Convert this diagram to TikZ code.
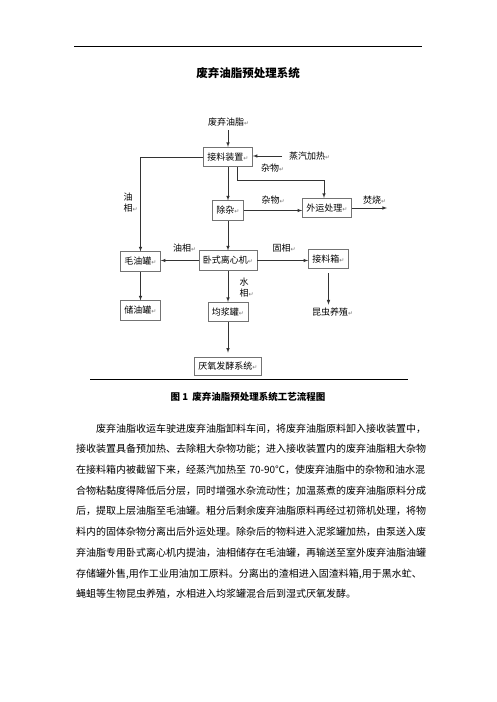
\documentclass[tikz,border=0pt]{standalone}
\usepackage{fontspec}
\setmainfont{Noto Sans CJK SC}
\newfontfamily\markfont{DejaVu Sans}
\usepackage{tikz}

\newcommand{\pmark}{{\markfont\fontsize{6}{6}\selectfont\textcolor{black!55}{↵}}}

\begin{document}
\begin{tikzpicture}[
    x=1pt, y=-1pt,
    box/.style={rectangle, draw=black!55, line width=0.6pt, inner xsep=4pt, inner ysep=0pt, minimum height=19.5pt, font=\fontsize{9}{10}\selectfont},
    lbl/.style={inner sep=0pt, anchor=west, font=\fontsize{9}{11}\selectfont},
    arrow/.style={-latex, black!80, line width=0.6pt}
]
    \useasboundingbox (0,0) rectangle (496,702);
    \fill[white] (0,0) rectangle (496,702);

    \draw[line width=0.9pt] (74,46) -- (422,46);
    \node[font=\fontsize{11.5}{12}\selectfont\bfseries] (title) at (248,73) {废弃油脂预处理系统};

    \node[lbl] (oil) at (208,122) {废弃油脂\pmark};
    \node[box] (feed) at (228,157) {接料装置\pmark};
    \node[lbl] (steam) at (289,156) {蒸汽加热\pmark};
    \node[lbl] (imp1) at (261,168) {杂物\pmark};
    \node[box] (sep) at (228,210.5) {除杂\pmark};
    \node[lbl] (imp2) at (261.5,200) {杂物\pmark};
    \node[box] (haul) at (327,208) {外运处理\pmark};
    \node[lbl] (burn) at (363,200) {焚烧\pmark};
    \coordinate (burnend) at (387,208);
    \node[lbl, align=left] (oilv) at (123.5,202.5) {油\\相\pmark};
    \node[box] (crude) at (140.5,261.5) {毛油罐\pmark};
    \node[box] (cent) at (228,260.5) {卧式离心机\pmark};
    \node[lbl] (oilh) at (173,248) {油相\pmark};
    \node[lbl] (solid) at (272.5,248) {固相\pmark};
    \node[box] (recv) at (328.5,259) {接料箱\pmark};
    \node[lbl] (insect) at (312,312) {昆虫养殖\pmark};
    \node[box] (store) at (140.5,310.5) {储油罐\pmark};
    \node[lbl, align=left] (water) at (239.5,288) {水\\相\pmark};
    \node[box] (homo) at (228,312) {均浆罐\pmark};
    \node[box, minimum height=18pt] (ana) at (228,366) {厌氧发酵系统\pmark};

    \draw[arrow, shorten <=4pt] (oil.south -| feed.north) -- (feed.north);
    \draw[arrow] ([xshift=-7pt]steam.west) -- (steam.west -| feed.east);
    \draw[arrow] (feed) -- (sep);
    \draw[arrow] ([xshift=9pt]feed.south) -- ++(0,13) -| ([xshift=-3pt]haul.north);
    \draw[arrow] (sep.east) -- (sep.east -| haul.west);
    \draw[arrow] (haul) -- (burnend);
    \draw[arrow] (feed.west) -| (crude.north);
    \draw[arrow] (sep) -- (cent);
    \draw[arrow] (cent.west) -- (cent.west -| crude.east);
    \draw[arrow] (cent.east) -- (cent.east -| recv.west);
    \draw[arrow, shorten <=4pt, shorten >=3pt] (recv.south) -- (recv.south |- insect.north);
    \draw[arrow] (crude) -- (store);
    \draw[arrow] (cent) -- (homo);
    \draw[arrow, shorten >=4pt] (homo) -- (ana);

    \draw[line width=0.9pt] (90,379) -- (408,379);
    \node[font=\fontsize{9.5}{10}\selectfont\bfseries] (caption) at (248,397) {图~1~~废弃油脂预处理系统工艺流程图};

    \node[anchor=north west, inner sep=0pt, text width=351pt, align=left, font=\fontsize{10}{20.7}\selectfont] (body) at (76,423.5) {\hspace*{20pt}废弃油脂收运车驶进废弃油脂卸料车间，将废弃油脂原料卸入接收装置中，\\
接收装置具备预加热、去除粗大杂物功能；进入接收装置内的废弃油脂粗大杂物\\
在接料箱内被截留下来，经蒸汽加热至~70-90℃，使废弃油脂中的杂物和油水混\\
合物粘黏度得降低后分层，同时增强水杂流动性；加温蒸煮的废弃油脂原料分成\\
后，提取上层油脂至毛油罐。粗分后剩余废弃油脂原料再经过初筛机处理，将物\\
料内的固体杂物分离出后外运处理。除杂后的物料进入泥浆罐加热，由泵送入废\\
弃油脂专用卧式离心机内提油，油相储存在毛油罐，再输送至室外废弃油脂油罐\\
存储罐外售,用作工业用油加工原料。分离出的渣相进入固渣料箱,用于黑水虻、\\
蝇蛆等生物昆虫养殖，水相进入均浆罐混合后到湿式厌氧发酵。};
\end{tikzpicture}
\end{document}
